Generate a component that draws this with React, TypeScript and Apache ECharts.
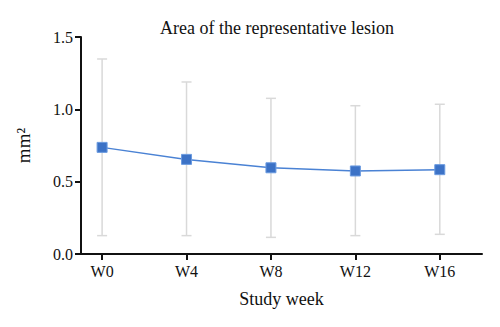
import React, { useEffect, useRef } from "react";
import * as echarts from "echarts";

const weeks = [0, 4, 8, 12, 16];
const weekLabels = ["W0", "W4", "W8", "W12", "W16"];
const meanArea = [0.737, 0.654, 0.596, 0.574, 0.583];
const upperArea = [1.348, 1.189, 1.076, 1.025, 1.035];
const lowerArea = [0.127, 0.127, 0.115, 0.127, 0.136];
const yTicks = [0, 0.5, 1.0, 1.5];

const SERIF = "'Liberation Serif', 'DejaVu Serif', serif";

export default function App() {
  const ref = useRef<HTMLDivElement>(null);
  useEffect(() => {
    if (!ref.current) return;
    const chart = echarts.init(ref.current, null, { renderer: "svg" });
    const errData = weeks.map((w, i) => [w, lowerArea[i], upperArea[i]]);
    chart.setOption({
      animation: false,
      title: {
        text: "Area of the representative lesion",
        left: 272,
        top: 14,
        textAlign: "center",
        textStyle: { fontFamily: SERIF, fontSize: 18, fontWeight: "normal", color: "#111" },
      },
      grid: { left: 81, right: 18, top: 37, bottom: 73 },
      xAxis: {
        type: "value",
        min: -1,
        max: 18,
        name: "Study week",
        nameLocation: "middle",
        nameGap: 36,
        nameTextStyle: { fontFamily: SERIF, fontSize: 18, color: "#111" },
        axisLine: { onZero: false, lineStyle: { color: "#111", width: 2 } },
        axisTick: { show: true, length: 6, lineStyle: { color: "#111", width: 2 }, customValues: weeks },
        axisLabel: {
          customValues: weeks,
          formatter: (v: number) => weekLabels[weeks.indexOf(v)] ?? "",
          fontFamily: SERIF,
          fontSize: 16,
          color: "#111",
          margin: 9,
        },
        splitLine: { show: false },
      },
      yAxis: {
        type: "value",
        min: 0,
        max: 1.5,
        interval: 0.5,
        name: "mm²",
        nameLocation: "middle",
        nameGap: 48,
        nameTextStyle: { fontFamily: SERIF, fontSize: 19, color: "#111" },
        axisLine: { show: true, onZero: false, lineStyle: { color: "#111", width: 2 } },
        axisTick: { show: true, length: 6, lineStyle: { color: "#111", width: 2 } },
        axisLabel: {
          formatter: (v: number) => (yTicks.includes(v) ? v.toFixed(1) : ""),
          fontFamily: SERIF,
          fontSize: 16,
          color: "#111",
          margin: 8,
        },
        splitLine: { show: false },
      },
      series: [
        {
          type: "custom",
          z: 1,
          data: errData,
          renderItem: (params: any, api: any) => {
            const x = api.value(0);
            const lo = api.coord([x, api.value(1)]);
            const hi = api.coord([x, api.value(2)]);
            const cap = 5;
            const style = { stroke: "#d9d9d9", lineWidth: 1.5 };
            return {
              type: "group",
              children: [
                { type: "line", shape: { x1: lo[0], y1: lo[1], x2: hi[0], y2: hi[1] }, style },
                { type: "line", shape: { x1: hi[0] - cap, y1: hi[1], x2: hi[0] + cap, y2: hi[1] }, style },
                { type: "line", shape: { x1: lo[0] - cap, y1: lo[1], x2: lo[0] + cap, y2: lo[1] }, style },
              ],
            };
          },
        },
        {
          type: "line",
          z: 3,
          data: weeks.map((w, i) => [w, meanArea[i]]),
          symbol: "rect",
          symbolSize: 10,
          lineStyle: { color: "#4a82d4", width: 1.5 },
          itemStyle: { color: "#3c72c6", borderColor: "#6b9be0", borderWidth: 1 },
        },
      ],
    });
    return () => chart.dispose();
  }, []);
  return <div ref={ref} style={{ width: 500, height: 327, position: "absolute", left: 0, top: 0 }} />;
}
